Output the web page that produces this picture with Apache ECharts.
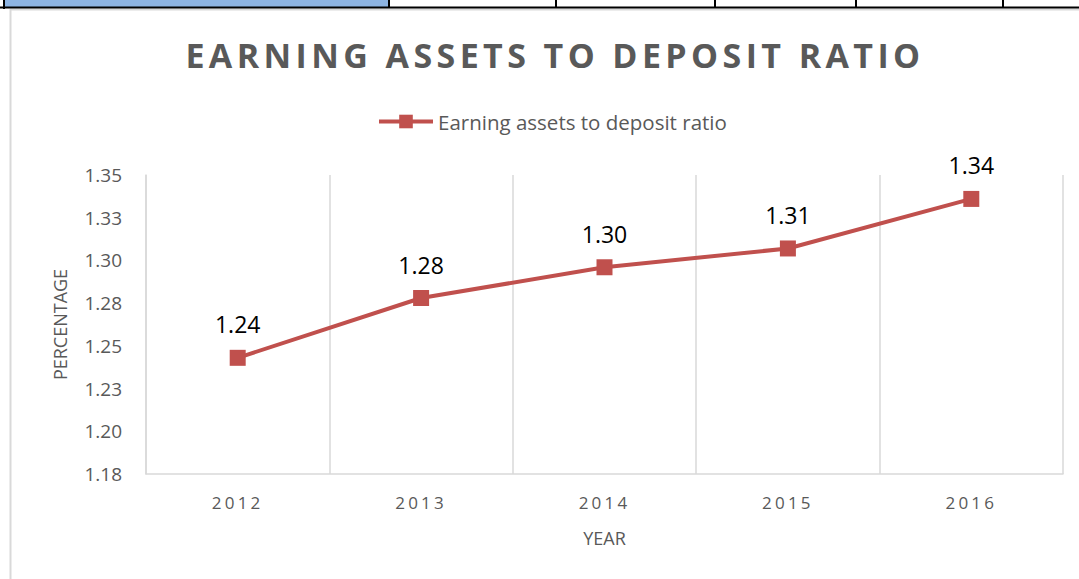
<!DOCTYPE html>
<html>
<head>
<meta charset="utf-8">
<script src="https://cdn.jsdelivr.net/npm/echarts@6/dist/echarts.min.js"></script>
<style>
html,body{margin:0;padding:0;background:#fff}
#c{width:1079px;height:579px}
#c text[style*="34px"]{letter-spacing:4.4px}
#c text[style*="17px"]{letter-spacing:3.2px}
</style>
</head>
<body>
<div id="c"></div>
<script>
var categories = ['2012', '2013', '2014', '2015', '2016'];
var ratioValues = [1.243, 1.278, 1.296, 1.307, 1.336];
var seriesName = 'Earning assets to deposit ratio';
var yMin = 1.175, yMax = 1.35, yStep = 0.025;

var chart = echarts.init(document.getElementById('c'), null, {renderer: 'svg'});
var FONT = 'Open Sans';
var GRAY = '#595959';
var LINE = '#d9d9d9';
var RED = '#C0504D';

chart.setOption({
  animation: false,
  backgroundColor: '#fff',
  title: {
    text: 'EARNING ASSETS TO DEPOSIT RATIO',
    left: 550, top: 50, textAlign: 'center', textVerticalAlign: 'middle',
    textStyle: {fontFamily: FONT, fontSize: 34, fontWeight: 'bold', color: GRAY}
  },
  legend: {
    data: [seriesName],
    left: 372, top: 106,
    itemWidth: 54, itemHeight: 17, itemGap: 6,
    lineStyle: {width: 4},
    textStyle: {fontFamily: FONT, fontSize: 20.5, color: GRAY}
  },
  grid: {left: 146, right: 16, top: 175, bottom: 105, containLabel: false},
  xAxis: {
    type: 'category', data: categories, boundaryGap: true,
    name: 'YEAR', nameLocation: 'middle', nameGap: 55,
    nameTextStyle: {fontFamily: FONT, fontSize: 18, color: GRAY},
    axisLine: {show: true, lineStyle: {color: LINE, width: 1.5}},
    axisTick: {show: false},
    axisLabel: {fontFamily: FONT, fontSize: 17, color: GRAY, margin: 20},
    splitLine: {show: true, lineStyle: {color: LINE, width: 1.5}}
  },
  yAxis: {
    type: 'value', min: yMin, max: yMax, interval: yStep,
    name: 'PERCENTAGE', nameLocation: 'middle', nameGap: 77, nameRotate: 90,
    nameTextStyle: {fontFamily: FONT, fontSize: 18, color: GRAY},
    axisLine: {show: true, lineStyle: {color: LINE, width: 1.5}},
    axisTick: {show: false},
    splitLine: {show: false},
    axisLabel: {
      fontFamily: FONT, fontSize: 19, color: GRAY, margin: 24,
      formatter: function (v) { return (Math.round(v * 1000 + 0.5) / 1000 + 1e-9).toFixed(2); }
    }
  },
  series: [{
    name: seriesName, type: 'line', data: ratioValues,
    symbol: 'rect', symbolSize: 16,
    lineStyle: {color: RED, width: 4},
    itemStyle: {color: RED},
    label: {
      show: true, position: 'top', distance: 14,
      fontFamily: FONT, fontSize: 23, color: '#000',
      formatter: function (p) { return p.value.toFixed(2); }
    }
  }],
  graphic: [
    {type: 'rect', shape: {x: 4, y: 0, width: 385, height: 7}, style: {fill: '#8DB4E2'}, z: 10},
    {type: 'line', shape: {x1: 0, y1: 7.5, x2: 1079, y2: 7.5}, style: {stroke: '#000', lineWidth: 2}, z: 11},
    {type: 'line', shape: {x1: 4, y1: 0, x2: 4, y2: 9}, style: {stroke: '#000', lineWidth: 2}, z: 11},
    {type: 'line', shape: {x1: 389, y1: 0, x2: 389, y2: 8}, style: {stroke: '#000', lineWidth: 2}, z: 11},
    {type: 'line', shape: {x1: 556, y1: 0, x2: 556, y2: 8}, style: {stroke: '#000', lineWidth: 2}, z: 11},
    {type: 'line', shape: {x1: 715, y1: 0, x2: 715, y2: 8}, style: {stroke: '#000', lineWidth: 2}, z: 11},
    {type: 'line', shape: {x1: 856, y1: 0, x2: 856, y2: 8}, style: {stroke: '#000', lineWidth: 2}, z: 11},
    {type: 'line', shape: {x1: 1003, y1: 0, x2: 1003, y2: 8}, style: {stroke: '#000', lineWidth: 2}, z: 11},
    {type: 'line', shape: {x1: 10, y1: 9.5, x2: 1079, y2: 9.5}, style: {stroke: LINE, lineWidth: 2}, z: 10},
    {type: 'line', shape: {x1: 10.5, y1: 9, x2: 10.5, y2: 579}, style: {stroke: LINE, lineWidth: 2}, z: 10}
  ]
});
</script>
</body>
</html>
